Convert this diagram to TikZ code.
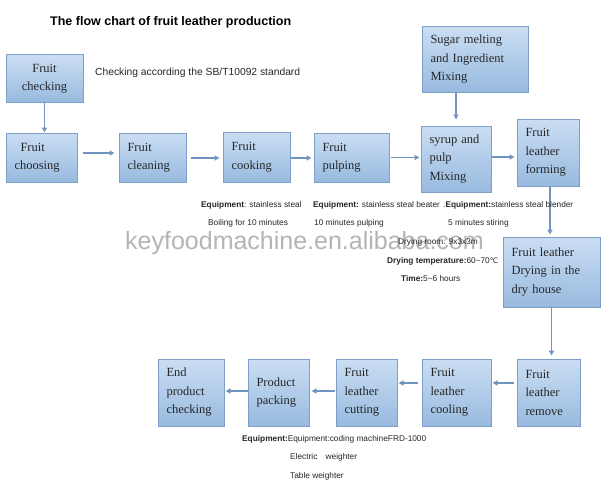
\documentclass[tikz,border=0pt]{standalone}
\usepackage{fontspec}
\setmainfont{Liberation Serif}
\newfontfamily\arial{Liberation Sans}
\newfontfamily\dejavu{DejaVu Sans}
\usetikzlibrary{arrows.meta}
\definecolor{boxtop}{HTML}{CADEF3}
\definecolor{boxbot}{HTML}{98BADF}
\definecolor{boxline}{HTML}{7D9EC6}
\definecolor{arrowc}{HTML}{6F94C0}
\definecolor{wmark}{HTML}{B4B4B4}
\tikzset{
  flowbox/.style={draw=boxline, line width=1pt, top color=boxtop, bottom color=boxbot,
    rectangle, inner xsep=8.5pt, inner ysep=0pt, align=left,
    font=\fontsize{12.5}{18.5}\selectfont, text=black!85},
  flowarrow/.style={draw=arrowc, line width=1.6pt, -{Triangle[length=5pt,width=5pt]}},
  note/.style={font=\arial\fontsize{8.3}{9.5}\selectfont, text=black!85, inner sep=0pt},
}
\newcommand{\flowboxnode}[6]{% name, x, y, w, h, text
  \node[flowbox, minimum width=#4pt, minimum height=#5pt, text width=\dimexpr #4pt-17pt\relax] (#1) at (#2,#3) {#6};}
\begin{document}
\begin{tikzpicture}[x=1pt,y=-1pt]
\useasboundingbox (0,0) rectangle (610,487);
\fill[white] (0,0) rectangle (610,487);
% title
\node[anchor=west, inner sep=0pt, font=\arial\bfseries\fontsize{12.5}{14}\selectfont] (title) at (50,22) {The flow chart of fruit leather production};
% boxes
\node[flowbox, align=center, minimum width=77pt, minimum height=47pt] (check) at (44.5,78.5) {Fruit\\checking};
\flowboxnode{choose}{41.5}{157.5}{71}{49}{\hspace*{6pt}Fruit\\choosing}
\flowboxnode{clean}{152.5}{157.5}{67}{49}{Fruit\\cleaning}
\flowboxnode{cook}{256.5}{157}{67}{50}{Fruit\\cooking}
\flowboxnode{pulp}{351.5}{157.5}{75}{49}{Fruit\\pulping}
\flowboxnode{mix}{456}{159}{70}{66}{syrup and\\pulp\\Mixing}
\flowboxnode{sugar}{475}{59.5}{106}{65}{Sugar melting\\and Ingredient\\Mixing}
\flowboxnode{form}{548}{152.5}{62}{67}{Fruit\\leather\\forming}
\flowboxnode{dry}{551.5}{272}{97}{70}{Fruit leather\\Drying in the\\dry house}
\flowboxnode{remove}{548.5}{392.5}{63}{67}{Fruit\\leather\\remove}
\flowboxnode{cool}{456.5}{392.5}{69}{67}{Fruit\\leather\\cooling}
\flowboxnode{cut}{366.5}{392.5}{61}{67}{Fruit\\leather\\cutting}
\flowboxnode{pack}{278.5}{392.5}{61}{67}{Product\\packing}
\flowboxnode{end}{191}{392.5}{66}{67}{End\\product\\checking}
% arrows
\draw[flowarrow] (check.south) -- (check.south |- choose.north);
\draw[flowarrow, shorten <=5pt, shorten >=4pt] ([yshift=4.5pt]choose.east) -- ([yshift=4.5pt]choose.east -| clean.west);
\draw[flowarrow, shorten <=4pt, shorten >=3pt] ([yshift=-0.5pt]clean.east) -- ([yshift=-0.5pt]clean.east -| cook.west);
\draw[flowarrow, shorten >=2pt] ([yshift=-1pt]cook.east) -- ([yshift=-1pt]cook.east -| pulp.west);
\draw[flowarrow, shorten <=1pt, shorten >=1pt] (pulp.east) -- (pulp.east -| mix.west);
\draw[flowarrow, shorten >=2pt] ([yshift=2pt]mix.east) -- ([yshift=2pt]mix.east -| form.west);
\draw[flowarrow, shorten >=6pt] (mix.north |- sugar.south) -- (mix.north);
\draw[flowarrow, shorten >=2pt] ([xshift=-1.5pt]dry.north |- form.south) -- ([xshift=-1.5pt]dry.north);
\draw[flowarrow, shorten >=3pt] (dry.south) -- (dry.south |- remove.north);
\draw[flowarrow, shorten <=3pt, shorten >=1pt] ([yshift=9.5pt]remove.west) -- ([yshift=9.5pt]remove.west -| cool.east);
\draw[flowarrow, shorten <=4pt, shorten >=1pt] ([yshift=9.5pt]cool.west) -- ([yshift=9.5pt]cool.west -| cut.east);
\draw[flowarrow, shorten <=1pt, shorten >=2pt] ([yshift=1.5pt]cut.west) -- ([yshift=1.5pt]cut.west -| pack.east);
\draw[flowarrow, shorten >=1pt] ([yshift=1.5pt]pack.west) -- ([yshift=1.5pt]pack.west -| end.east);
% watermark
\node[anchor=west, inner sep=0pt, font=\arial\fontsize{25}{28}\selectfont, text=wmark] (wm) at (125,243) {keyfoodmachine.en.alibaba.com};
% notes
\node[note, anchor=west, font=\arial\fontsize{10.3}{12}\selectfont] (n0) at (95,73) {Checking according the SB/T10092 standard};
\node[note, anchor=west] (n1) at (201,205) {\textbf{Equipment}: stainless steal};
\node[note, anchor=west] (n2) at (208,223) {Boiling for 10 minutes};
\node[note, anchor=west] (n3) at (313,205) {\textbf{Equipment:} stainless steal beater};
\node[note, anchor=west] (n4) at (443,205) {.\textbf{Equipment:}stainless steal blender};
\node[note, anchor=west] (n5) at (314,223) {10 minutes pulping};
\node[note, anchor=west] (n6) at (448,223) {5 minutes stiring};
\node[note, anchor=west] (n7) at (398,242) {Drying room: 9x3x3m};
\node[note, anchor=west] (n8) at (387,261) {\textbf{Drying temperature:}60\textasciitilde70{\dejavu\fontsize{7.5}{9}\selectfont ℃}};
\node[note, anchor=west] (n9) at (401,279) {\textbf{Time:}5\textasciitilde6 hours};
\node[note, anchor=west] (n10) at (242,439) {\textbf{Equipment:}Equipment:coding machineFRD-1000};
\node[note, anchor=west] (n11) at (290,457) {Electric\quad weighter};
\node[note, anchor=west] (n12) at (290,476) {Table weighter};
\end{tikzpicture}
\end{document}
